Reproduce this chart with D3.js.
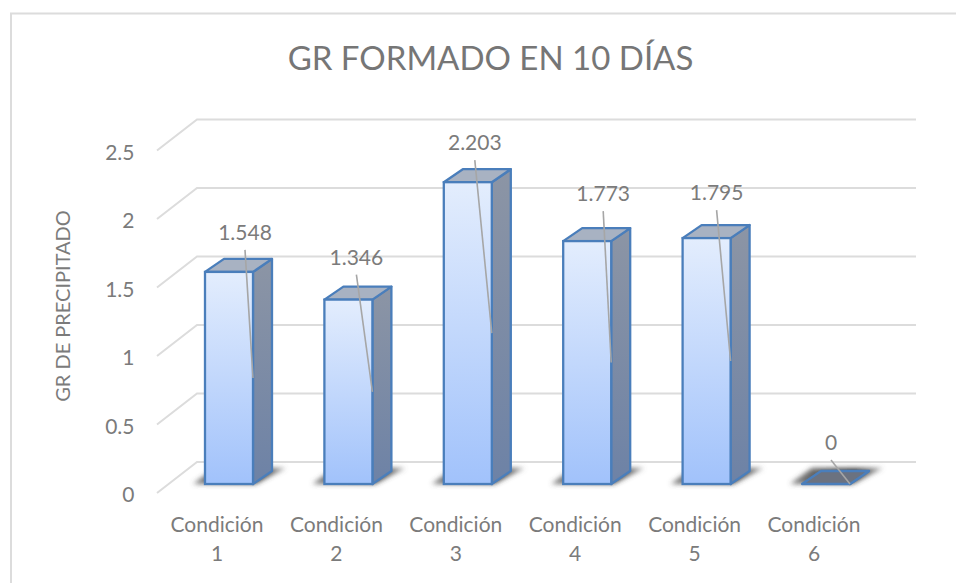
<!DOCTYPE html>
<html><head><meta charset="utf-8">
<script src="https://cdn.jsdelivr.net/npm/d3@7"></script>
<style>html,body{margin:0;padding:0;background:#fff}svg{display:block}text{font-family:Lato,"Open Sans",sans-serif}</style>
</head><body><svg id="c" width="956" height="583"></svg>
<script>
const categories = ["Condición 1","Condición 2","Condición 3","Condición 4","Condición 5","Condición 6"];
const values = [1.548,1.346,2.203,1.773,1.795,0];
const yTicks = [0,0.5,1,1.5,2,2.5];
const titleText = "GR FORMADO EN 10 DÍAS";
const yAxisTitle = "GR DE PRECIPITADO";
const labelOffsets = [[-8,-40],[-16,-43],[-17,-40],[-8,-48],[-14,-46],[-19,-42]];

const svg = d3.select("#c"), W=956, H=583;
const depthX=19, depthY=13, barW=48;
const textCol="#7b7b7b";
const x = d3.scaleLinear().domain([0,5]).range([205,802]);
const y = d3.scaleLinear().domain([0,2.5]).range([484,141.5]);
const defs = svg.append("defs");
const grad = defs.append("linearGradient").attr("id","barG").attr("x1",0).attr("x2",0).attr("y1",0).attr("y2",1);
grad.append("stop").attr("offset","0%").attr("stop-color","#e3edfd");
grad.append("stop").attr("offset","100%").attr("stop-color","#a1c2fb");
const side = defs.append("linearGradient").attr("id","sideG").attr("x1",0).attr("x2",0).attr("y1",0).attr("y2",1);
side.append("stop").attr("offset","0%").attr("stop-color","#8c95a5");
side.append("stop").attr("offset","100%").attr("stop-color","#6d82a6");
const shade = defs.append("linearGradient").attr("id","shadeG").attr("x1",0).attr("x2",1).attr("y1",0).attr("y2",0);
shade.append("stop").attr("offset","0%").attr("stop-color","#555").attr("stop-opacity",0.75);
shade.append("stop").attr("offset","70%").attr("stop-color","#333").attr("stop-opacity",1);
shade.append("stop").attr("offset","100%").attr("stop-color","#666").attr("stop-opacity",0.6);
defs.append("filter").attr("id","blur").attr("x","-30%").attr("y","-80%").attr("width","160%").attr("height","260%")
  .append("feGaussianBlur").attr("stdDeviation",2.8);

// frame (top and left edges only are visible in the crop)
svg.append("path").attr("d",`M11,${H} V13.5 H${W}`).attr("fill","none").attr("stroke","#dcdcdc").attr("stroke-width",2);

// title
svg.append("text").attr("x",490.5).attr("y",70).attr("text-anchor","middle").attr("font-size",33).attr("fill","#767676").text(titleText);

// gridlines
svg.append("g").selectAll("path").data(yTicks).join("path")
  .attr("d",d=>`M157,${y(d)+9} L197,${y(d)-22} H916`)
  .attr("fill","none").attr("stroke","#dcdcdc").attr("stroke-width",2);

// y axis labels
svg.append("g").selectAll("text").data(yTicks).join("text")
  .attr("x",134.5).attr("y",d=>y(d)+18).attr("text-anchor","end").attr("font-size",21).attr("fill",textCol).text(d=>d);
svg.append("text").attr("transform","translate(70,306) rotate(-90)").attr("text-anchor","middle").attr("font-size",20).attr("fill",textCol).text(yAxisTitle);

// category labels
categories.forEach((c,i)=>{
  const parts=c.split(" ");
  const t=svg.append("text").attr("text-anchor","middle").attr("font-size",21).attr("fill",textCol);
  parts.forEach((p,k)=>t.append("tspan").attr("x",x(i)+12).attr("y",532+k*29).text(p));
});

// shadows
svg.append("g").attr("filter","url(#blur)").selectAll("path").data(values).join("path")
  .attr("d",(d,i)=>{const a=x(i);return `M${a-12},484 L${a+barW+2},484 L${a+barW+depthX+14},468 L${a+10},468 Z`;})
  .attr("fill","url(#shadeG)");

const stroke="#4a7ebb";
const g=svg.append("g").selectAll("g").data(values.map((v,i)=>({v,i}))).join("g");
g.append("path").attr("d",d=>{const a=x(d.i),t=y(d.v);return `M${a+barW},${t} l${depthX},${-depthY} V${484-depthY} L${a+barW},484 Z`;})
  .attr("fill","url(#sideG)").attr("stroke",stroke).attr("stroke-width",2.3).attr("stroke-linejoin","round");
g.append("path").attr("d",d=>{const a=x(d.i),t=y(d.v);return `M${a},${t} l${depthX},${-depthY} h${barW} l${-depthX},${depthY} Z`;})
  .attr("fill",d=>d.v>0?"#a8b2c2":"#6b7280").attr("stroke",stroke).attr("stroke-width",2.3).attr("stroke-linejoin","round");
g.filter(d=>d.v>0).append("rect").attr("x",d=>x(d.i)).attr("y",d=>y(d.v)).attr("width",barW).attr("height",d=>484-y(d.v))
  .attr("fill","url(#barG)").attr("stroke",stroke).attr("stroke-width",2.3);

// leader lines and labels
values.forEach((v,i)=>{
  const lx=x(i)+barW+labelOffsets[i][0], ly=y(v)+labelOffsets[i][1];
  svg.append("line").attr("x1",lx).attr("y1",ly+18).attr("x2",x(i)+barW).attr("y2",(y(v)+484)/2)
    .attr("stroke","#a6a6a6").attr("stroke-width",1.6);
  svg.append("text").attr("x",lx).attr("y",ly+8).attr("text-anchor","middle").attr("font-size",21).attr("fill",textCol).text(v);
});
</script></body></html>
